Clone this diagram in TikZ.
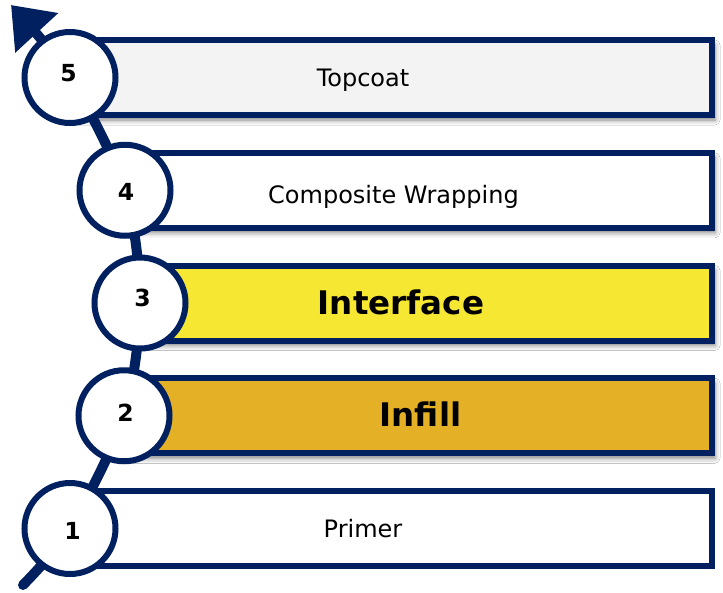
\documentclass[tikz,border=0pt]{standalone}
\usepackage{fontspec}
\setmainfont{DejaVu Sans}
\usetikzlibrary{arrows.meta,shadows.blur}
\definecolor{navy}{HTML}{002060}
\definecolor{topfill}{HTML}{F3F3F3}
\definecolor{yel}{HTML}{F6E733}
\definecolor{amber}{HTML}{E4B126}
\tikzset{
  plainbox/.style={draw=navy, line width=6pt, rectangle, inner sep=0pt, minimum height=75pt},
  layerbox/.style={plainbox,
    blur shadow={shadow xshift=3pt, shadow yshift=-5pt, shadow blur radius=5pt, shadow opacity=50}},
  stepcircle/.style={draw=navy, line width=6pt, circle, fill=white, minimum size=91pt, inner sep=0pt},
  numlabel/.style={font=\fontsize{23.5}{26}\selectfont\bfseries, inner sep=0pt},
  smalllabel/.style={font=\fontsize{24}{28}\selectfont, anchor=base, inner sep=0pt},
  biglabel/.style={font=\fontsize{32.5}{36}\selectfont\bfseries, anchor=base, inner sep=0pt},
  flow/.style={draw=navy, line width=10pt, line cap=round, line join=round,
    -{Triangle[length=38pt, width=56pt]}}
}
\begin{document}
\begin{tikzpicture}[x=1pt, y=-1pt]
\useasboundingbox[fill=white] (0,0) rectangle (723,592);
% layer boxes
\node[layerbox, fill=topfill, minimum width=642pt] (b5) at (391,77.5) {};
\node[layerbox, fill=white, minimum width=587pt] (b4) at (418.5,190.25) {};
\node[layerbox, fill=yel, minimum width=572pt] (b3) at (426,303) {};
\node[layerbox, fill=amber, minimum width=588pt] (b2) at (418,415.75) {};
\node[plainbox, fill=white, minimum width=642pt] (b1) at (391,528.5) {};
% arrow path
\coordinate (p0) at (23,585);
\coordinate (p1) at (70,528.5);
\coordinate (p2) at (124,415.75);
\coordinate (p3) at (140,303);
\coordinate (p4) at (125,190.25);
\coordinate (p5) at (70,77.5);
\coordinate (tip) at (11,5);
\draw[flow] plot[smooth, tension=0.5] coordinates {(p0) (p1) (p2) (p3) (p4) (p5) (tip)};
% circles
\node[stepcircle] (c1) at (p1) {};
\node[stepcircle] (c2) at (p2) {};
\node[stepcircle] (c3) at (p3) {};
\node[stepcircle] (c4) at (p4) {};
\node[stepcircle] (c5) at (p5) {};
% numbers
\node[numlabel] (n5) at (68.5,73) {5};
\node[numlabel] (n4) at (126,192) {4};
\node[numlabel] (n3) at (142.5,298) {3};
\node[numlabel] (n2) at (125.5,413) {2};
\node[numlabel] (n1) at (72.5,530.5) {1};
% labels
\node[smalllabel] (t5) at (363,86) {Topcoat};
\node[smalllabel] (t4) at (393.5,203) {Composite Wrapping};
\node[biglabel] (t3) at (401,314) {Interface};
\node[biglabel] (t2) at (420.5,426.7) {Infill};
\node[smalllabel] (t1) at (363,537) {Primer};
\end{tikzpicture}
\end{document}
